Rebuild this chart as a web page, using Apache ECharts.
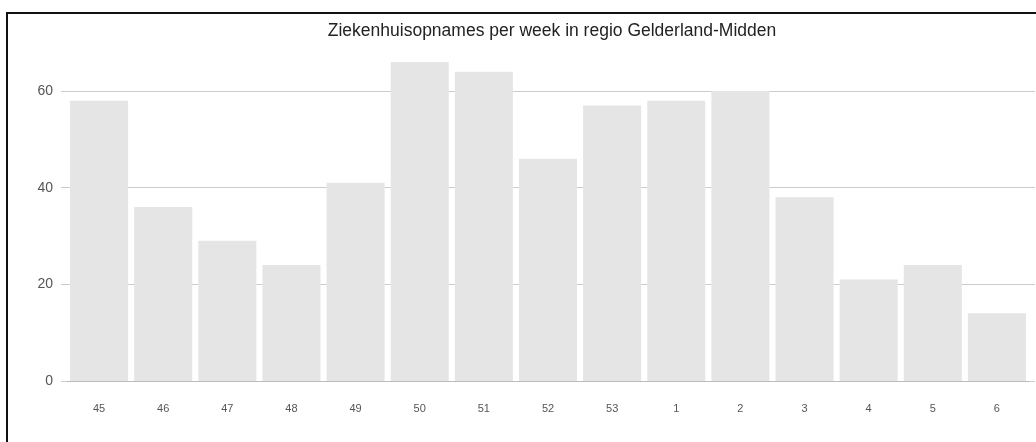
<!DOCTYPE html>
<html>
<head>
<meta charset="utf-8">
<script src="https://cdn.jsdelivr.net/npm/echarts@6/dist/echarts.min.js"></script>
<style>
  html, body { margin: 0; padding: 0; background: #fff; }
  #chart { width: 1036px; height: 442px; }
  #frame {
    position: absolute; left: 6px; top: 12px; width: 1040px; height: 440px;
    border-left: 2px solid #111; border-top: 2px solid #111; pointer-events: none;
  }
</style>
</head>
<body>
<div id="chart"></div>
<div id="frame"></div>
<script>
var weeks = ['45', '46', '47', '48', '49', '50', '51', '52', '53', '1', '2', '3', '4', '5', '6'];
var admissions = [58, 36, 29, 24, 41, 66, 64, 46, 57, 58, 60, 38, 21, 24, 14];
var yTicks = [0, 20, 40, 60];
var yMax = 70;

var myChart = echarts.init(document.getElementById('chart'));
myChart.setOption({
    animation: false,
    title: {
        text: 'Ziekenhuisopnames per week in regio Gelderland-Midden',
        left: 547,
        top: 17,
        textAlign: 'center',
        textStyle: {
            fontFamily: 'Liberation Sans, Arial, sans-serif',
            fontSize: 17.5,
            fontWeight: 'normal',
            color: '#222'
        }
    },
    grid: {
        left: 67,
        right: 7,
        top: 42.7,
        bottom: 61
    },
    xAxis: [{
        type: 'category',
        data: weeks,
        axisLine: { lineStyle: { color: '#bbb' } },
        axisTick: { show: false },
        axisLabel: {
            margin: 22,
            fontSize: 11,
            color: '#555',
            fontFamily: 'Liberation Sans, Arial, sans-serif'
        }
    }],
    yAxis: [{
        type: 'value',
        min: 0,
        max: yMax,
        interval: 20,
        axisLine: { show: false },
        axisTick: { show: true, length: 6, customValues: yTicks, lineStyle: { color: '#ccc' } },
        axisLabel: {
            customValues: yTicks,
            margin: 14,
            fontSize: 14,
            color: '#555',
            fontFamily: 'Liberation Sans, Arial, sans-serif'
        },
        splitLine: { lineStyle: { color: '#ccc' } }
    }, {
        type: 'value',
        position: 'right',
        min: 0,
        max: yMax,
        interval: 20,
        axisLine: { show: false },
        axisTick: { show: true, length: 6, customValues: yTicks, lineStyle: { color: '#ccc' } },
        axisLabel: { show: false },
        splitLine: { show: false }
    }],
    series: [{
        name: 'Opnames',
        type: 'bar',
        data: admissions,
        barCategoryGap: '9.5%',
        itemStyle: { color: '#e5e5e5' }
    }]
});
</script>
</body>
</html>
